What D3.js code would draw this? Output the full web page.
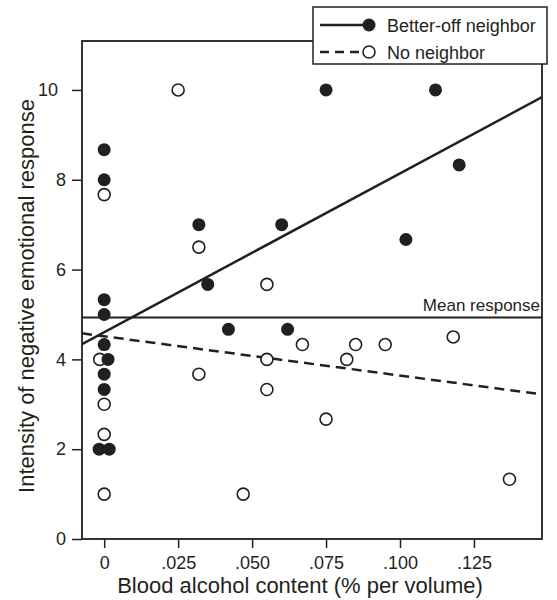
<!DOCTYPE html>
<html>
<head>
<meta charset="utf-8">
<script src="https://cdn.jsdelivr.net/npm/d3@7"></script>
<style>
  body { margin: 0; background: #fff; }
  text { font-family: "Liberation Sans", Arial, sans-serif; fill: #231f20; }
</style>
</head>
<body>
<div id="chart"></div>
<script>

// better-off neighbor (filled)
var betterX = [0, 0, 0, 0, 0, 0.0013, 0, 0, -0.0017, 0.0017, 0.032, 0.060, 0.035, 0.042, 0.062, 0.075, 0.112, 0.120, 0.102];
var betterY = [8.67, 8, 5.33, 5, 4.33, 4, 3.67, 3.33, 2, 2, 7, 7, 5.67, 4.67, 4.67, 10, 10, 8.33, 6.67];

// no neighbor (open)
var noneX = [0, -0.0015, 0, 0, 0, 0.025, 0.032, 0.032, 0.055, 0.055, 0.055, 0.067, 0.085, 0.095, 0.082, 0.118, 0.075, 0.047, 0.137];
var noneY = [7.67, 4, 3, 2.33, 1, 10, 6.5, 3.67, 5.67, 4, 3.33, 4.33, 4.33, 4.33, 4, 4.5, 2.67, 1, 1.33];

// fitted lines, end points
var fitX = [-0.0075, 0.148];
var betterFitY = [4.34, 9.84];
var noneFitY = [4.58, 3.22];
var meanResponse = 4.93;

var xTicks = [0, 0.025, 0.05, 0.075, 0.1, 0.125];
var xTickLabels = ['0', '.025', '.050', '.075', '.100', '.125'];
var yTicks = [0, 2, 4, 6, 8, 10];

var legendLabels = ['Better-off neighbor', 'No neighbor'];

var ink = '#231f20';
var width = 557, height = 600;
var plotLeft = 82, plotRight = 542, plotTop = 41, plotBottom = 539;  // window.top is taken

var svg = d3.select('#chart').append('svg')
    .attr('width', width)
    .attr('height', height);

var xScale = d3.scaleLinear().domain([-0.0075, 0.148]).range([plotLeft, plotRight]);
var yScale = d3.scaleLinear().domain([0, 11.09]).range([plotBottom, plotTop]);

svg.append('clipPath').attr('id', 'plot')
  .append('rect')
    .attr('x', plotLeft).attr('y', plotTop)
    .attr('width', plotRight - plotLeft).attr('height', plotBottom - plotTop);

var plot = svg.append('g').attr('clip-path', 'url(#plot)');

// mean response line
plot.append('line')
    .attr('x1', plotLeft).attr('x2', plotRight)
    .attr('y1', yScale(meanResponse)).attr('y2', yScale(meanResponse))
    .attr('stroke', ink).attr('stroke-width', 2);

svg.append('text')
    .attr('x', plotRight - 2).attr('y', yScale(meanResponse) - 7)
    .attr('text-anchor', 'end')
    .style('font-size', '17px')
    .text('Mean response');

var line = d3.line()
    .x(function(d) { return xScale(d[0]); })
    .y(function(d) { return yScale(d[1]); });

plot.append('path')
    .attr('d', line(d3.zip(fitX, betterFitY)))
    .attr('fill', 'none').attr('stroke', ink).attr('stroke-width', 2.5);

plot.append('path')
    .attr('d', line(d3.zip(fitX, noneFitY)))
    .attr('fill', 'none').attr('stroke', ink).attr('stroke-width', 2.5)
    .attr('stroke-dasharray', '10,6');

// points
plot.selectAll('circle.none')
    .data(d3.zip(noneX, noneY))
    .enter()
    .append('circle')
    .attr('class', 'none')
    .attr('cx', function(d) { return xScale(d[0]); })
    .attr('cy', function(d) { return yScale(d[1]); })
    .attr('r', 6)
    .attr('fill', '#fff').attr('stroke', ink).attr('stroke-width', 1.6);

plot.selectAll('circle.better')
    .data(d3.zip(betterX, betterY))
    .enter()
    .append('circle')
    .attr('class', 'better')
    .attr('cx', function(d) { return xScale(d[0]); })
    .attr('cy', function(d) { return yScale(d[1]); })
    .attr('r', 6.5)
    .attr('fill', ink);

// axes
var xAxis = svg.append('g')
    .attr('transform', 'translate(0,' + plotBottom + ')')
    .call(d3.axisBottom(xScale)
      .tickValues(xTicks)
      .tickFormat(function(d, i) { return xTickLabels[i]; })
      .tickSize(9).tickPadding(8));

var yAxis = svg.append('g')
    .attr('transform', 'translate(' + plotLeft + ',0)')
    .call(d3.axisLeft(yScale)
      .tickValues(yTicks)
      .tickSize(10).tickPadding(6));

[xAxis, yAxis].forEach(function(a) {
  a.select('.domain').remove();
  a.selectAll('line').attr('stroke', ink).attr('stroke-width', 1.5);
  a.selectAll('text')
    .style('font-size', '18px')
    .style('font-family', '"Liberation Sans", Arial, sans-serif')
    .attr('fill', ink);
});

// the "10" sits a bit further out in the original
yAxis.selectAll('.tick text')
    .filter(function(d) { return d >= 10; })
    .attr('dx', -8);

// frame
svg.append('rect')
    .attr('x', plotLeft).attr('y', plotTop)
    .attr('width', plotRight - plotLeft).attr('height', plotBottom - plotTop)
    .attr('fill', 'none').attr('stroke', ink).attr('stroke-width', 1.8);

svg.append('text')
    .attr('x', 300).attr('y', 593)
    .attr('text-anchor', 'middle')
    .style('font-size', '22px')
    .text('Blood alcohol content (% per volume)');

svg.append('text')
    .attr('transform', 'translate(34,' + 296 + ') rotate(-90)')
    .attr('text-anchor', 'middle')
    .style('font-size', '22px')
    .text('Intensity of negative emotional response');

// legend
var legend = svg.append('g').attr('transform', 'translate(313,7)');

legend.append('rect')
    .attr('width', 234).attr('height', 57)
    .attr('fill', '#fff').attr('stroke', ink).attr('stroke-width', 1.5);

legendLabels.forEach(function(label, i) {
  var y = 18 + i * 27;
  legend.append('line')
    .attr('x1', 7).attr('x2', 55)
    .attr('y1', y).attr('y2', y)
    .attr('stroke', ink).attr('stroke-width', 2.5)
    .attr('stroke-dasharray', i == 1 ? '9,6' : null);
  legend.append('circle')
    .attr('cx', 56).attr('cy', y)
    .attr('r', i == 0 ? 6.5 : 6)
    .attr('fill', i == 0 ? ink : '#fff')
    .attr('stroke', ink).attr('stroke-width', i == 0 ? 0 : 1.6);
  legend.append('text')
    .attr('x', 74).attr('y', y + 6.5)
    .style('font-size', '18px')
    .text(label);
});

</script>
</body>
</html>
